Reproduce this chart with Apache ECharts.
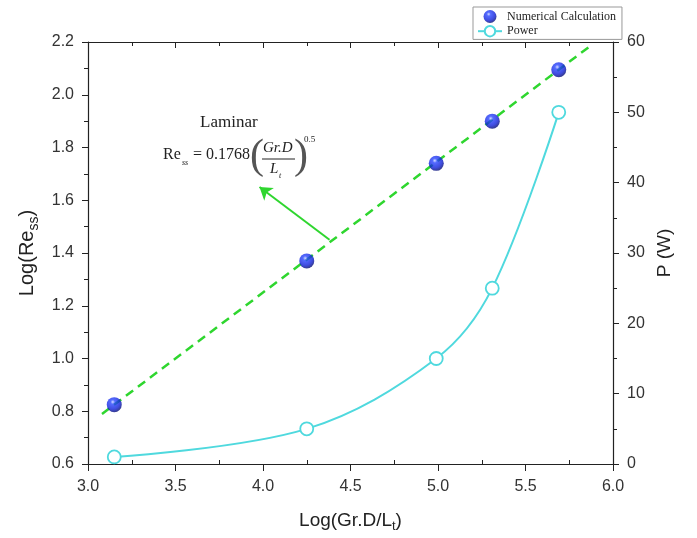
<!DOCTYPE html>
<html>
<head>
    <meta charset="UTF-8">
    <title>Log(Re) vs Log(Gr.D/Lt)</title>
    <script src="https://cdn.jsdelivr.net/npm/echarts@6/dist/echarts.min.js"></script>
</head>
<body style="margin:0">
<div id="main" style="width: 697px;height:538px;"></div>
<script type="text/javascript">
    // data
    var xLog = [3.15, 4.25, 4.99, 5.31, 5.69];      // Log(Gr.D/Lt)
    var reLog = [0.825, 1.37, 1.74, 1.90, 2.095];   // Log(Re_ss), numerical
    var powerW = [1, 5, 15, 25, 50];                // P (W)
    var fitX = [3.08, 5.86];                        // laminar correlation line ends
    var fitY = [0.79, 2.18];
    var arrowFrom = [4.38, 1.45];
    var arrowTo = [3.98, 1.65];

    var myChart = echarts.init(document.getElementById('main'));

    function pairs(xs, ys) {
        return xs.map(function (x, i) { return [x, ys[i]]; });
    }

    var sans = 'Liberation Sans';
    var serif = 'Liberation Serif';
    var green = '#2fd62f';
    var cyan = '#4fd9de';
    var ink = '#222';

    var sphere = new echarts.graphic.RadialGradient(0.4, 0.32, 0.68, [
        {offset: 0, color: '#c9d4ff'},
        {offset: 0.22, color: '#2a46ff'},
        {offset: 0.7, color: '#1020d8'},
        {offset: 1, color: '#040c78'}
    ]);

    var labelStyle = {fontFamily: sans, fontSize: 16, color: '#333', margin: 14};
    function fmt1(v) { return v.toFixed(1); }

    var option = {
        animation: false,
        backgroundColor: '#fff',
        grid: {left: 88, right: 84, top: 42, bottom: 74},
        legend: {
            orient: 'vertical',
            left: 473,
            top: 7,
            padding: [3, 6, 2, 4],
            itemGap: 2,
            itemWidth: 24,
            itemHeight: 13,
            backgroundColor: '#fff',
            borderColor: '#999',
            borderWidth: 1,
            borderRadius: 0,
            textStyle: {fontFamily: serif, fontSize: 12, color: ink},
            data: ['Numerical Calculation', 'Power']
        },
        xAxis: [
            {
                // bottom: major ticks outside
                type: 'value', position: 'bottom', min: 3, max: 6, interval: 0.5,
                axisLine: {lineStyle: {color: ink, width: 1.2}},
                axisTick: {show: true, length: 7, lineStyle: {color: ink}},
                minorTick: {show: false},
                splitLine: {show: false},
                axisLabel: Object.assign({}, labelStyle, {margin: 15, formatter: fmt1}),
                name: 'Log(Gr.D/L{sub|t})',
                nameLocation: 'middle',
                nameGap: 44,
                nameTextStyle: {
                    fontFamily: sans, fontSize: 19, color: ink,
                    rich: {sub: {fontFamily: sans, fontSize: 13, color: ink, padding: [12, 0, 0, 0]}}
                }
            },
            {
                // top frame: ticks inside
                type: 'value', position: 'top', min: 3, max: 6, interval: 0.5,
                axisLine: {lineStyle: {color: ink, width: 1.2}},
                axisTick: {show: true, inside: true, length: 6, lineStyle: {color: ink}},
                minorTick: {show: true, splitNumber: 2, length: 4, lineStyle: {color: ink}},
                splitLine: {show: false},
                axisLabel: {show: false}
            },
            {
                // bottom minor ticks pointing inward
                type: 'value', position: 'bottom', min: 3, max: 6, interval: 0.5,
                axisLine: {show: false},
                axisTick: {show: false, inside: true},
                minorTick: {show: true, splitNumber: 2, length: 4, lineStyle: {color: ink}},
                splitLine: {show: false},
                axisLabel: {show: false}
            }
        ],
        yAxis: [
            {
                type: 'value', position: 'left', min: 0.6, max: 2.2, interval: 0.2,
                axisLine: {lineStyle: {color: ink, width: 1.2}},
                axisTick: {show: true, length: 6, lineStyle: {color: ink}},
                minorTick: {show: true, splitNumber: 2, length: 4, lineStyle: {color: ink}},
                splitLine: {show: false},
                axisLabel: Object.assign({}, labelStyle, {formatter: fmt1}),
                name: 'Log(Re{sub|ss})',
                nameLocation: 'middle',
                nameGap: 40,
                nameTextStyle: {
                    fontFamily: sans, fontSize: 20, color: ink,
                    rich: {sub: {fontFamily: sans, fontSize: 14, color: ink, padding: [12, 0, 0, 0]}}
                }
            },
            {
                type: 'value', position: 'right', min: 0, max: 60, interval: 10,
                axisLine: {lineStyle: {color: ink, width: 1.2}},
                axisTick: {show: true, length: 6, lineStyle: {color: ink}},
                minorTick: {show: true, splitNumber: 2, length: 4, lineStyle: {color: ink}},
                splitLine: {show: false},
                axisLabel: labelStyle,
                name: 'P (W)',
                nameLocation: 'middle',
                nameGap: 40,
                nameTextStyle: {fontFamily: sans, fontSize: 19, color: ink}
            }
        ],
        graphic: [
            {type: 'text', left: 200, top: 114, style: {text: 'Laminar', fontFamily: serif, fontSize: 17, fill: ink}},
            {type: 'text', left: 163, top: 147, style: {text: 'Re', fontFamily: serif, fontSize: 16, fill: ink}},
            {type: 'text', left: 182, top: 159, style: {text: 'ss', fontFamily: serif, fontStyle: 'italic', fontSize: 8, fill: ink}},
            {type: 'text', left: 193, top: 147, style: {text: '= 0.1768', fontFamily: serif, fontSize: 16, fill: ink}},
            {type: 'text', left: 250, top: 136, style: {text: '(', fontFamily: serif, fontSize: 42, fontWeight: 'lighter', fill: '#555'}},
            {type: 'text', left: 263, top: 141, style: {text: 'Gr.D', fontFamily: serif, fontStyle: 'italic', fontSize: 15, fill: ink}},
            {type: 'line', shape: {x1: 262, y1: 159, x2: 295, y2: 159}, style: {stroke: ink, lineWidth: 1}},
            {type: 'text', left: 270, top: 162, style: {text: 'L', fontFamily: serif, fontStyle: 'italic', fontSize: 15, fill: ink}},
            {type: 'text', left: 279, top: 172, style: {text: 't', fontFamily: serif, fontStyle: 'italic', fontSize: 8, fill: ink}},
            {type: 'text', left: 294, top: 136, style: {text: ')', fontFamily: serif, fontSize: 42, fontWeight: 'lighter', fill: '#555'}},
            {type: 'text', left: 304, top: 135, style: {text: '0.5', fontFamily: serif, fontSize: 9, fill: ink}}
        ],
        series: [
            {
                name: 'laminar fit',
                type: 'line',
                xAxisIndex: 0,
                yAxisIndex: 0,
                data: pairs(fitX, fitY),
                symbol: 'none',
                z: 2,
                lineStyle: {color: green, width: 2.5, type: [9, 6]},
                markLine: {
                    silent: true,
                    symbol: ['none', 'arrow'],
                    symbolSize: 12,
                    label: {show: false},
                    lineStyle: {color: green, width: 2, type: 'solid'},
                    itemStyle: {color: green},
                    data: [[{coord: arrowFrom}, {coord: arrowTo}]]
                }
            },
            {
                name: 'Power',
                type: 'line',
                xAxisIndex: 0,
                yAxisIndex: 1,
                data: pairs(xLog, powerW),
                smooth: 0.35,
                symbol: 'circle',
                symbolSize: 13,
                z: 3,
                lineStyle: {color: cyan, width: 2},
                itemStyle: {color: '#fff', borderColor: cyan, borderWidth: 1.8}
            },
            {
                name: 'Numerical Calculation',
                type: 'scatter',
                xAxisIndex: 0,
                yAxisIndex: 0,
                data: pairs(xLog, reLog),
                symbolSize: 15,
                z: 4,
                itemStyle: {color: sphere}
            }
        ]
    };

    myChart.setOption(option);
</script>
</body>
</html>
